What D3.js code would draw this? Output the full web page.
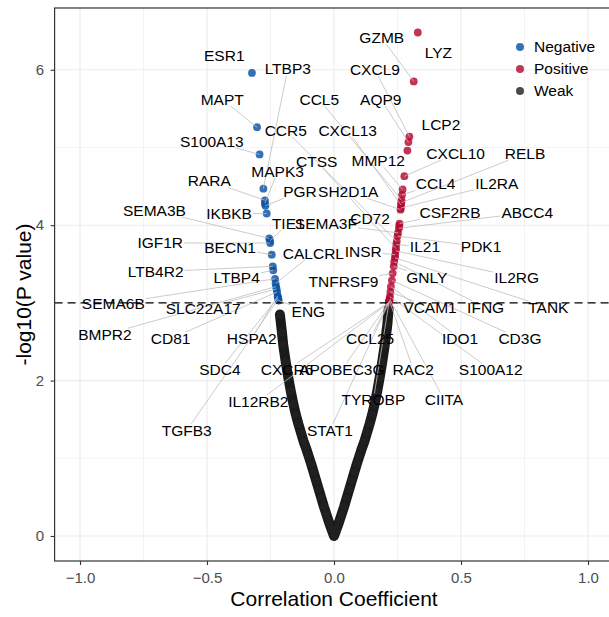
<!DOCTYPE html>
<html><head><meta charset="utf-8">
<script src="https://cdn.jsdelivr.net/npm/d3@7"></script>
<style>
body{margin:0;background:#fff}
svg{display:block}
text{font-family:"Liberation Sans",Arial,Helvetica,sans-serif}
</style>
</head><body>
<svg id="chart" width="609" height="617"></svg>
<script>
// ---------- data ----------
const genes = ["ESR1","LTBP3","MAPT","S100A13","MAPK3","RARA","PGR","IKBKB","SEMA3B","TIE1","IGF1R","BECN1","LTB4R2","LTBP4","CALCRL","SEMA6B","BMPR2","SLC22A17","CD81","HSPA2","SDC4","TGFB3","ENG",
  "LYZ","GZMB","CXCL9","AQP9","LCP2","CXCL10","MMP12","CCL4","CCL5","RELB","CXCL13","IL2RA","SH2D1A","CSF2RB","CD72","ABCC4","SEMA3F","PDK1","CCR5","IL21","CTSS","IL2RG","INSR","TANK","IFNG","GNLY","TNFRSF9","CD3G","IDO1","VCAM1","S100A12","CIITA","RAC2","CCL25","TYROBP","APOBEC3G","CXCR6","STAT1","IL12RB2"];
const corr = [-0.323,-0.278,-0.303,-0.293,-0.272,-0.272,-0.270,-0.265,-0.255,-0.252,-0.251,-0.245,-0.241,-0.239,-0.230,-0.232,-0.228,-0.226,-0.224,-0.222,-0.220,-0.219,-0.218,
  0.330,0.314,0.297,0.293,0.289,0.277,0.270,0.268,0.266,0.265,0.264,0.263,0.262,0.258,0.257,0.256,0.252,0.250,0.247,0.245,0.244,0.243,0.241,0.240,0.237,0.235,0.231,0.228,0.224,0.222,0.220,0.219,0.218,0.2175,0.217,0.2165,0.216,0.2158,0.2155];
const logP = [5.96,4.47,5.26,4.91,4.28,4.32,4.25,4.15,3.83,3.80,3.77,3.62,3.47,3.42,3.25,3.31,3.21,3.18,3.14,3.09,3.07,3.05,3.03,
  6.48,5.85,5.14,5.07,4.96,4.63,4.46,4.39,4.32,4.29,4.26,4.22,4.20,4.02,3.99,3.96,3.90,3.86,3.79,3.75,3.70,3.67,3.62,3.58,3.53,3.47,3.38,3.29,3.21,3.14,3.08,3.05,3.03,3.02,3.015,3.01,3.005,3.003,3.001];
// where each repelled label sits (same units as the axes)
const labelCorr = [-0.432,-0.182,-0.440,-0.481,-0.222,-0.491,-0.134,-0.413,-0.707,-0.180,-0.684,-0.409,-0.702,-0.383,-0.081,-0.869,-0.902,-0.515,-0.643,-0.324,-0.449,-0.580,-0.101,
  0.411,0.188,0.161,0.184,0.421,0.479,0.174,0.400,-0.058,0.752,0.054,0.641,0.056,0.457,0.142,0.761,-0.032,0.579,-0.190,0.358,-0.068,0.719,0.115,0.844,0.597,0.365,0.037,0.732,0.496,0.378,0.617,0.433,0.312,0.142,0.155,0.031,-0.185,-0.016,-0.298];
const labelLogP = [6.18,6.01,5.62,5.08,4.69,4.57,4.43,4.15,4.19,4.02,3.77,3.71,3.40,3.32,3.64,2.99,2.59,2.93,2.54,2.54,2.14,1.36,2.89,
  6.22,6.41,6.00,5.62,5.30,4.92,4.83,4.53,5.62,4.92,5.22,4.53,4.43,4.16,4.09,4.16,4.02,3.72,5.22,3.72,4.82,3.33,3.66,2.94,2.94,3.33,3.27,2.54,2.54,2.94,2.14,1.76,2.14,2.54,1.75,2.14,2.14,1.36,1.73];
const noSegment = ["ESR1","LYZ","LCP2"];

// weak (non-significant) genes along the V
const weakCorr = [-0.213,-0.205,-0.20,-0.19,-0.18,-0.17,-0.16,-0.15,-0.14,-0.13,-0.12,-0.11,-0.10,-0.09,-0.08,-0.07,-0.06,-0.05,-0.04,-0.03,-0.02,-0.01,0,
  0.01,0.02,0.03,0.04,0.05,0.06,0.07,0.08,0.09,0.10,0.11,0.12,0.13,0.14,0.15,0.16,0.17,0.18,0.19,0.20,0.21,0.215];
const weakLogP = [2.85,2.62,2.46,2.24,2.04,1.86,1.70,1.56,1.44,1.33,1.22,1.13,1.03,0.93,0.82,0.71,0.60,0.49,0.38,0.28,0.18,0.09,0.00,
  0.09,0.18,0.28,0.38,0.49,0.60,0.71,0.82,0.93,1.03,1.13,1.22,1.33,1.44,1.56,1.70,1.86,2.04,2.24,2.46,2.72,2.92];

const threshold = 3;
const xTicks = [-1, -0.5, 0, 0.5, 1];
const xTickLabels = ["\u22121.0", "\u22120.5", "0.0", "0.5", "1.0"];
const xMinor = [-0.75, -0.25, 0.25, 0.75];
const yTicks = [0, 2, 4, 6];
const yTickLabels = ["0", "2", "4", "6"];
const yMinor = [1, 3, 5];
const groups = ["Negative", "Positive", "Weak"];
const groupColors = ["#0A52A5", "#B4082F", "#222222"];

// ---------- layout ----------
const svg = d3.select("#chart");
const x = d3.scaleLinear().domain([-1.1, 1.1]).range([54.6, 613.4]);
const y = d3.scaleLinear().domain([-0.322, 6.795]).range([561, 8]);
const color = d3.scaleOrdinal().domain(groups).range(groupColors);
const [x0, x1] = x.range(), [y1, y0] = y.range();

svg.append("defs").append("clipPath").attr("id", "clip")
  .append("rect").attr("x", x0).attr("y", y0).attr("width", x1 - x0).attr("height", y1 - y0);

const grid = svg.append("g");
grid.selectAll(".xm").data(xMinor).join("line")
  .attr("x1", d => x(d)).attr("x2", d => x(d)).attr("y1", y0).attr("y2", y1)
  .attr("stroke", "#EBEBEB").attr("stroke-width", 0.6);
grid.selectAll(".ym").data(yMinor).join("line")
  .attr("y1", d => y(d)).attr("y2", d => y(d)).attr("x1", x0).attr("x2", x1)
  .attr("stroke", "#EBEBEB").attr("stroke-width", 0.6);
grid.selectAll(".xM").data(xTicks).join("line")
  .attr("x1", d => x(d)).attr("x2", d => x(d)).attr("y1", y0).attr("y2", y1)
  .attr("stroke", "#EBEBEB").attr("stroke-width", 1.1);
grid.selectAll(".yM").data(yTicks).join("line")
  .attr("y1", d => y(d)).attr("y2", d => y(d)).attr("x1", x0).attr("x2", x1)
  .attr("stroke", "#EBEBEB").attr("stroke-width", 1.1);

const plot = svg.append("g").attr("clip-path", "url(#clip)");

// weak genes: dense band
const weak = weakCorr.map((c, i) => ({c, p: weakLogP[i]}));
plot.append("path").datum(weak)
  .attr("d", d3.line().x(d => x(d.c)).y(d => y(d.p)))
  .attr("fill", "none").attr("stroke", "#1a1a1a").attr("stroke-width", 10)
  .attr("stroke-linecap", "round").attr("stroke-linejoin", "round");
plot.selectAll(".weak").data(weak).join("circle")
  .attr("cx", d => x(d.c)).attr("cy", d => y(d.p)).attr("r", 4)
  .attr("fill", color("Weak")).attr("fill-opacity", 0.85);

// significant genes
const sig = genes.map((g, i) => ({
  g, c: corr[i], p: logP[i], lc: labelCorr[i], lp: labelLogP[i],
  grp: corr[i] < 0 ? "Negative" : "Positive"
}));
plot.selectAll(".sig").data(sig).join("circle")
  .attr("cx", d => x(d.c)).attr("cy", d => y(d.p)).attr("r", 3.9)
  .attr("fill", d => color(d.grp)).attr("fill-opacity", 0.82);

// threshold line
plot.append("line")
  .attr("x1", x0).attr("x2", x1).attr("y1", y(threshold)).attr("y2", y(threshold))
  .attr("stroke", "#000").attr("stroke-width", 1.2).attr("stroke-dasharray", "8,5");

// labels + leader segments
const FS = 15.5;
const segG = plot.append("g");
const labG = plot.append("g");
sig.forEach(d => {
  const lx = x(d.lc), ly = y(d.lp), px = x(d.c), py = y(d.p);
  const t = labG.append("text").attr("x", lx).attr("y", ly)
    .attr("text-anchor", "middle").attr("dy", "0.35em")
    .attr("font-size", FS).attr("fill", "#000").text(d.g);
  if (noSegment.includes(d.g)) return;
  const w = t.node().getComputedTextLength();
  const hw = w / 2 + 1, hh = 6.5;
  const dx = px - lx, dy = py - ly;
  const s = Math.min(dx === 0 ? Infinity : hw / Math.abs(dx), dy === 0 ? Infinity : hh / Math.abs(dy));
  if (s >= 1) return;
  const len = (1 - s) * Math.hypot(dx, dy);
  if (len < 12) return;
  segG.append("line")
    .attr("x1", lx + dx * s).attr("y1", ly + dy * s).attr("x2", px).attr("y2", py)
    .attr("stroke", "#BEBEBE").attr("stroke-width", 0.8);
});

// axes
const xAxis = svg.append("g").attr("transform", `translate(0,${y1})`)
  .call(d3.axisBottom(x).tickValues(xTicks).tickFormat((d, i) => xTickLabels[i]).tickSize(4).tickPadding(7));
const yAxis = svg.append("g").attr("transform", `translate(${x0},0)`)
  .call(d3.axisLeft(y).tickValues(yTicks).tickFormat((d, i) => yTickLabels[i]).tickSize(4).tickPadding(6.5));
[xAxis, yAxis].forEach(a => {
  a.select(".domain").remove();
  a.selectAll(".tick line").attr("stroke", "#333").attr("stroke-width", 1.1);
  a.selectAll(".tick text").attr("fill", "#4D4D4D").attr("font-size", 15)
    .attr("font-family", "'Liberation Sans',Arial,Helvetica,sans-serif");
});

// panel border
svg.append("rect").attr("x", x0).attr("y", y0).attr("width", x1 - x0).attr("height", y1 - y0)
  .attr("fill", "none").attr("stroke", "#333").attr("stroke-width", 1.2);

// titles
svg.append("text").attr("x", x(0)).attr("y", 606).attr("text-anchor", "middle")
  .attr("font-size", 21).attr("fill", "#000").text("Correlation Coefficient");
svg.append("text").attr("transform", `translate(31,${(y0 + y1) / 2 + 10}) rotate(-90)`)
  .attr("text-anchor", "middle").attr("font-size", 21).attr("fill", "#000").text("-log10(P value)");

// legend
const leg = svg.append("g");
groups.forEach((g, i) => {
  const ly = 47 + i * 22;
  leg.append("circle").attr("cx", 520).attr("cy", ly).attr("r", 4)
    .attr("fill", color(g)).attr("fill-opacity", 0.82);
  leg.append("text").attr("x", 534).attr("y", ly).attr("dy", "0.35em")
    .attr("font-size", 15.5).attr("fill", "#000").text(g);
});
</script>
</body></html>
